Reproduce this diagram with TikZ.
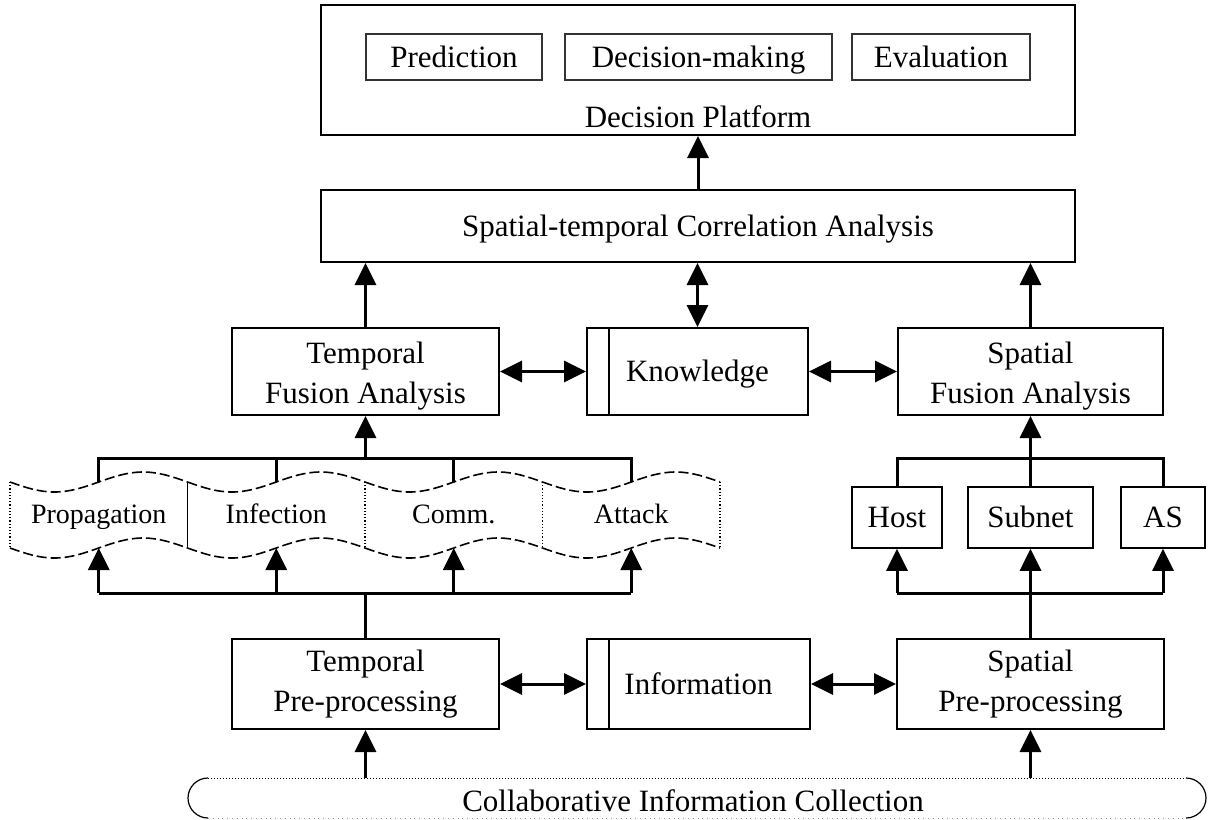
\documentclass[tikz,border=0pt]{standalone}
\usepackage{fontspec}
\setmainfont{Liberation Serif}
\usetikzlibrary{arrows.meta}
\begin{document}
\begin{tikzpicture}[x=0.5pt,y=-0.5pt,
  every node/.style={font=\fontsize{15.5}{20}\selectfont, inner sep=0pt},
  box/.style={draw, line width=1pt, align=center},
  oneline/.style={text height=10.5pt, text depth=0.2pt},
  twoline/.style={align=center},
  smallbox/.style={draw, line width=0.8pt, oneline},
  subbox/.style={draw=black!80, line width=0.6pt, oneline},
  tapetext/.style={font=\fontsize{14}{17}\selectfont, text height=9.5pt, text depth=0.2pt},
  >={Triangle[length=11pt,width=10.5pt]},
  flow/.style={line width=1.5pt, ->},
  twoway/.style={line width=1.5pt, <->},
  wire/.style={line width=1.5pt},
  tapeedge/.style={line width=0.8pt, dash pattern=on 5pt off 2pt},
  tapeside/.style={line width=0.6pt, densely dotted},
]
\fill[white] (0,0) rectangle (1209,819);
\useasboundingbox (0,0) rectangle (1209,819);

% decision platform
\node[box, minimum width=377pt, minimum height=65pt] (dp) at (698,70) {};
\node[subbox, minimum width=88pt, minimum height=23pt] (pred) at (454,57) {Prediction};
\node[subbox, minimum width=133.5pt, minimum height=23pt] (dec) at (698.5,57) {Decision-making};
\node[subbox, minimum width=89pt, minimum height=23pt] (eval) at (941,57) {Evaluation};
\node[oneline] (dptext) at (698,117) {Decision Platform};

% correlation analysis
\node[box, oneline, minimum width=377pt, minimum height=36pt] (st) at (698,226) {Spatial-temporal Correlation Analysis};

% fusion row
\node[box, minimum width=133.5pt, minimum height=43.5pt] (tf) at (365.5,371.5) {};
\node[twoline] (tftext) at (365.5,376) {Temporal\\Fusion Analysis};
\node[box, oneline, minimum width=110.5pt, minimum height=43.5pt] (kn) at (697.5,371.5) {Knowledge};
\node[box, minimum width=132.5pt, minimum height=43.5pt] (sf) at (1030.5,371.5) {};
\node[twoline] (sftext) at (1030.5,376) {Spatial\\Fusion Analysis};
\draw[line width=0.8pt] ([xshift=11.5pt]kn.north west) -- ([xshift=11.5pt]kn.south west);

% spatial granularity boxes
\node[smallbox, minimum width=45pt, minimum height=30.5pt] (host) at (897,517.5) {Host};
\node[smallbox, minimum width=62.5pt, minimum height=30.5pt] (subnet) at (1030.5,517.5) {Subnet};
\node[smallbox, minimum width=42pt, minimum height=30.5pt] (as) at (1163,517.5) {AS};

% pre-processing row
\node[box, minimum width=133.5pt, minimum height=45pt] (tp) at (365.5,684) {Temporal\\Pre-processing};
\node[box, oneline, minimum width=111.5pt, minimum height=45pt] (inf) at (698.5,684) {Information};
\node[box, minimum width=133.5pt, minimum height=45pt] (sp) at (1030.5,684) {Spatial\\Pre-processing};
\draw[line width=0.8pt] ([xshift=11.5pt]inf.north west) -- ([xshift=11.5pt]inf.south west);

% collection band
\draw[line width=0.6pt] (208,778) .. controls (197,778) and (188,787) .. (188,798)
                                  .. controls (188,809) and (197,818) .. (208,818);
\draw[line width=0.6pt] (1186,778) .. controls (1197,778) and (1206,787) .. (1206,798)
                                   .. controls (1206,809) and (1197,818) .. (1186,818);
\draw[line width=0.5pt, densely dotted] (208,778) -- (1186,778);
\draw[line width=0.4pt, black!40, dotted] (208,818) -- (1186,818);
\coordinate (colltop) at (697,778);
\node[anchor=base] (coll) at (693,811) {Collaborative Information Collection};

% temporal tapes
\foreach \i/\lab/\nm in {0/Propagation/tprop,1/Infection/tinfe,2/Comm./tcomm,3/Attack/tatt}{
  \pgfmathsetmacro\xa{10+177.5*\i}
  \pgfmathsetmacro\xb{\xa+44.375}
  \pgfmathsetmacro\xc{\xa+88.75}
  \pgfmathsetmacro\xd{\xa+133.125}
  \pgfmathsetmacro\xe{\xa+177.5}
  \draw[tapeedge] (\xa,482) sin (\xb,492) cos (\xc,482) sin (\xd,472) cos (\xe,482);
  \draw[tapeedge] (\xa,548) sin (\xb,558) cos (\xc,548) sin (\xd,538) cos (\xe,548);
  \node[tapetext] (\nm) at (\xc,514) {\lab};
  \coordinate (\nm-top) at (\xc,482);
  \coordinate (\nm-bot) at (\xc,548);
}
\draw[tapeside] (10,482) -- (10,548);
\draw[line width=0.7pt] (187.5,482) -- (187.5,548);
\draw[tapeside] (365,482) -- (365,548);
\draw[tapeside] (542.5,482) -- (542.5,548);
\draw[tapeside] (720,482) -- (720,548);

% temporal buses
\coordinate (tbusT) at (365.5,458);
\coordinate (tbusB) at (365.5,593);
\draw[wire] (tprop-top) -- (tprop-top |- tbusT) -- (tatt-top |- tbusT) -- (tatt-top);
\draw[wire] (tinfe-top) -- (tinfe-top |- tbusT);
\draw[wire] (tcomm-top) -- (tcomm-top |- tbusT);
\draw[flow] (tf.south |- tbusT) -- (tf.south);
\draw[wire] (tprop-bot |- tbusB) -- (tatt-bot |- tbusB);
\foreach \nm in {tprop,tinfe,tcomm,tatt}{
  \draw[flow] (\nm-bot |- tbusB) -- (\nm-bot);
}
\draw[wire] (tp.north) -- (tp.north |- tbusB);

% spatial buses
\coordinate (sbusT) at (1030.5,458);
\coordinate (sbusB) at (1030.5,593);
\draw[wire] (host.north) -- (host.north |- sbusT) -- (as.north |- sbusT) -- (as.north);
\draw[wire] (subnet.north) -- (subnet.north |- sbusT);
\draw[flow] (sf.south |- sbusT) -- (sf.south);
\draw[wire] (host.south |- sbusB) -- (as.south |- sbusB);
\foreach \nm in {host,subnet,as}{
  \draw[flow] (\nm.south |- sbusB) -- (\nm.south);
}
\draw[wire] (sp.north) -- (sp.north |- sbusB);

% upward flow and exchanges
\draw[flow] (tp.south |- colltop) -- (tp.south);
\draw[flow] (sp.south |- colltop) -- (sp.south);
\draw[twoway] (tp.east) -- (inf.west);
\draw[twoway] (inf.east) -- (sp.west);
\draw[twoway] (tf.east) -- (kn.west);
\draw[twoway] (kn.east) -- (sf.west);
\draw[flow] (tf.north) -- (tf.north |- st.south);
\draw[flow] (sf.north) -- (sf.north |- st.south);
\draw[twoway] (kn.north) -- (kn.north |- st.south);
\draw[flow] (st.north) -- (st.north |- dp.south);
\end{tikzpicture}
\end{document}
